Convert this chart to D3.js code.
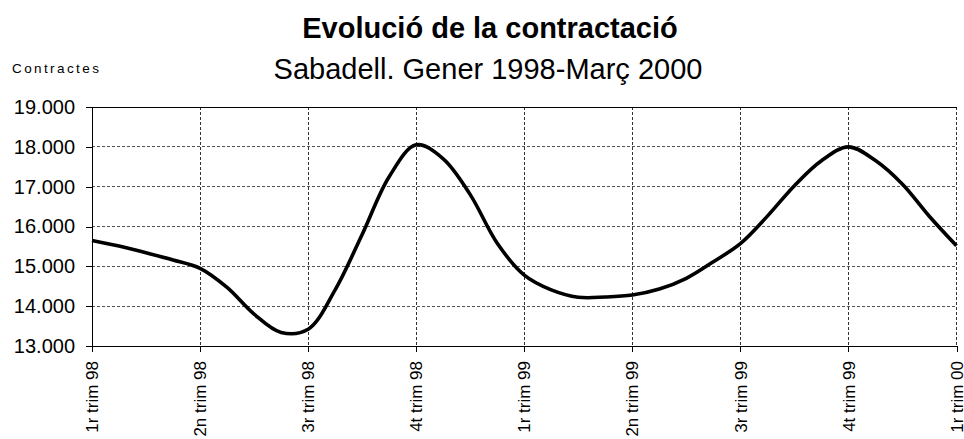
<!DOCTYPE html>
<html>
<head>
<meta charset="utf-8">
<script src="https://cdn.jsdelivr.net/npm/d3@7"></script>
<style>
  html, body { margin: 0; padding: 0; background: #fff; }
  svg { display: block; font-family: "Liberation Sans", Arial, sans-serif; }
</style>
</head>
<body>
<svg id="chart" width="964" height="439"></svg>
<script>
// ---- Data ----
const title = "Evolució de la contractació";
const subtitle = "Sabadell. Gener 1998-Març 2000";
const yAxisTitle = "Contractes";
const quarterLabels = ["1r trim 98", "2n trim 98", "3r trim 98", "4t trim 98",
                       "1r trim 99", "2n trim 99", "3r trim 99", "4t trim 99", "1r trim 00"];
// value samples, four per quarter (positions 0..32)
const contractes = [
  15650, 15510, 15340, 15160, 14950, 14470, 13800, 13340,
  13420, 14410, 15800, 17250, 18050, 17700, 16800, 15580,
  14780, 14410, 14225, 14230, 14280, 14430, 14700, 15115,
  15570, 16260, 17025, 17650, 18000, 17655, 17060, 16250,
  15515
];
const yTicks = [13000, 14000, 15000, 16000, 17000, 18000, 19000];
const pointsPerQuarter = 4;

(function () {
// ---- Layout ----
const svg = d3.select("#chart");
const pL = 92, pR = 956.5, pT = 107, pB = 346;

const x = d3.scaleLinear().domain([0, contractes.length - 1]).range([pL, pR]);
const y = d3.scaleLinear().domain([13000, 19000]).range([pB, pT]);

const locale = d3.formatLocale({decimal: ",", thousands: ".", grouping: [3], currency: ["", " €"]});
const fmt = locale.format(",");

// Titles
svg.append("text").attr("x", 490).attr("y", 38).attr("text-anchor", "middle")
  .attr("font-size", 29).attr("font-weight", "bold").attr("fill", "#000").text(title);
svg.append("text").attr("x", 488).attr("y", 79).attr("text-anchor", "middle")
  .attr("font-size", 29).attr("fill", "#000").text(subtitle);
svg.append("text").attr("x", 12).attr("y", 73).attr("font-size", 13.5)
  .attr("letter-spacing", 2.4).attr("fill", "#000").text(yAxisTitle);

// Gridlines
const tickIdx = quarterLabels.map((d, i) => i * pointsPerQuarter);
const g = svg.append("g");
g.selectAll("line.hg").data(yTicks.slice(1, -1)).join("line")
  .attr("x1", pL).attr("x2", pR).attr("y1", d => y(d)).attr("y2", d => y(d))
  .attr("stroke", "#555").attr("stroke-width", 1).attr("stroke-dasharray", "3,2")
  .attr("shape-rendering", "crispEdges");
g.selectAll("line.vg").data(tickIdx.slice(1)).join("line")
  .attr("x1", d => x(d)).attr("x2", d => x(d)).attr("y1", pT).attr("y2", pB)
  .attr("stroke", "#333").attr("stroke-width", 1).attr("stroke-dasharray", "3,2")
  .attr("shape-rendering", "crispEdges");
// top border
g.append("line").attr("x1", pL).attr("x2", pR).attr("y1", pT).attr("y2", pT)
  .attr("stroke", "#000").attr("shape-rendering", "crispEdges");

// Y axis
const yAxis = svg.append("g").attr("transform", `translate(${pL},0)`)
  .call(d3.axisLeft(y).tickValues(yTicks).tickFormat(fmt).tickSize(6).tickPadding(11));
yAxis.select(".domain").attr("stroke", "#000").attr("shape-rendering", "crispEdges");
yAxis.selectAll(".tick line").attr("stroke", "#000").attr("shape-rendering", "crispEdges");
yAxis.selectAll(".tick text").attr("font-size", 20).attr("fill", "#000")
  .attr("font-family", "'Liberation Sans', Arial, sans-serif");

// X axis
const xAxis = svg.append("g").attr("transform", `translate(0,${pB})`)
  .call(d3.axisBottom(x).tickValues(tickIdx).tickFormat((d, i) => quarterLabels[i]).tickSize(6).tickSizeOuter(0));
xAxis.select(".domain").attr("stroke", "#000").attr("shape-rendering", "crispEdges");
xAxis.selectAll(".tick line").attr("stroke", "#000").attr("shape-rendering", "crispEdges");
xAxis.selectAll(".tick text")
  .attr("font-size", 17).attr("fill", "#000")
  .attr("font-family", "'Liberation Sans', Arial, sans-serif")
  .attr("text-anchor", "end")
  .attr("transform", "translate(0,15) rotate(-90)")
  .attr("x", 0).attr("y", 0).attr("dy", "0.33em");

// Line
const line = d3.line().x((d, i) => x(i)).y(d => y(d)).curve(d3.curveCatmullRom.alpha(0.5));
svg.append("path").datum(contractes).attr("d", line)
  .attr("fill", "none").attr("stroke", "#000").attr("stroke-width", 3.6)
  .attr("stroke-linejoin", "round");
})();
</script>
</body>
</html>
